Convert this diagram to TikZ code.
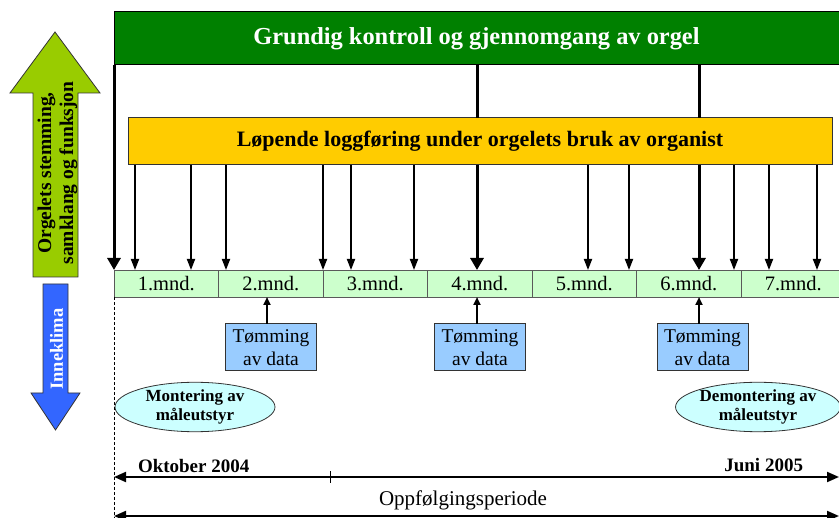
\documentclass[tikz,border=0pt]{standalone}
\usepackage{fontspec}
\setmainfont{Liberation Serif}
\usetikzlibrary{arrows.meta,shapes.geometric}
\definecolor{titlegreen}{HTML}{008000}
\definecolor{logyellow}{HTML}{FFCC00}
\definecolor{cellgreen}{HTML}{CCFFCC}
\definecolor{dataclr}{HTML}{99CCFF}
\definecolor{ellclr}{HTML}{CCFFFF}
\definecolor{upclr}{HTML}{99CC00}
\definecolor{downclr}{HTML}{3366FF}
\begin{document}
\begin{tikzpicture}[x=1pt,y=-1pt,
  every node/.style={inner sep=0pt, outer sep=0pt},
  titlebox/.style={draw=black, line width=1pt, fill=titlegreen, text=white, minimum width=725pt, minimum height=53pt, anchor=north west, font=\fontsize{24.4}{28}\selectfont\bfseries},
  logbox/.style={draw=black!80, line width=1pt, fill=logyellow, minimum width=704pt, minimum height=47pt, anchor=north west, font=\fontsize{22}{26}\selectfont\bfseries},
  cell/.style={draw=black!65, line width=0.8pt, fill=cellgreen, minimum width=104.5pt, minimum height=27pt, anchor=north west, font=\fontsize{20.5}{24}\selectfont},
  databox/.style={draw=black!80, line width=1pt, fill=dataclr, minimum width=91pt, minimum height=47pt, align=center, font=\fontsize{19.5}{23}\selectfont},
  ellnode/.style={ellipse, draw=black!80, line width=0.8pt, fill=ellclr, minimum width=160pt, minimum height=46pt, align=center, font=\fontsize{17}{19.5}\selectfont\bfseries},
  thinarr/.style={line width=1.8pt, -{Triangle[width=8pt,length=11pt]}},
  thickarr/.style={line width=3pt, -{Triangle[width=13pt,length=12pt]}},
  thickline/.style={line width=3pt},
  uparr/.style={line width=2pt, -{Triangle[width=7pt,length=8pt]}},
  datearr/.style={line width=2pt, {Triangle[width=10pt,length=12pt]}-{Triangle[width=10pt,length=12pt]}},
  datelbl/.style={font=\fontsize{19}{22}\selectfont\bfseries},
  sidearrow/.style={draw=black!80, line width=0.8pt}
]
\useasboundingbox (0,0) rectangle (839,518);

% side arrows
\filldraw[sidearrow, fill=upclr] (33,277) -- (33,93) -- (10,93) -- (55,32) -- (100,93) -- (78,93) -- (78,277) -- cycle;
\node[rotate=90, align=center, font=\fontsize{19.5}{22}\selectfont\bfseries] (uptxt) at (57.5,173) {Orgelets stemming,\\samklang og funksjon};
\filldraw[sidearrow, fill=downclr] (43,284) -- (68,284) -- (68,393) -- (80,393) -- (55.5,430) -- (31,393) -- (43,393) -- cycle;
\node[rotate=90, text=white, font=\fontsize{18.5}{21}\selectfont\bfseries] (downtxt) at (56.5,349) {Inneklima};

% title and log boxes
\node[titlebox] (title) at (114,12) {Grundig kontroll og gjennomgang av orgel};
\node[logbox] (log) at (128,118) {Løpende loggføring under orgelets bruk av organist};

% month cells
\foreach \i in {1,...,7} {
  \node[cell] (m\i) at ({114+104.5*(\i-1)},270) {\i.mnd.};
}

% connectors from the title box
\draw[thickarr] (title.south west) -- (m1.north west);
\foreach \x in {477,699} {
  \draw[thickline] (\x,0 |- title.south) -- (\x,0 |- log.north);
  \draw[thickarr] (\x,0 |- log.south) -- (\x,0 |- m1.north);
}
% connectors from the log box
\foreach \x in {135,191,226,323,351,414,588,629,734,769,817} {
  \draw[thinarr] (\x,0 |- log.south) -- (\x,0 |- m1.north);
}

% data boxes
\node[databox] (d1) at (271,347.5) {Tømming\\av data};
\node[databox] (d2) at (480,347.5) {Tømming\\av data};
\node[databox] (d3) at (702.5,347.5) {Tømming\\av data};
\draw[uparr] (267,0 |- d1.north) -- (267,0 |- m2.south);
\draw[uparr] (477,0 |- d2.north) -- (477,0 |- m4.south);
\draw[uparr] (699,0 |- d3.north) -- (699,0 |- m6.south);

% ellipses
\node[ellnode] (mont) at (195,407) {Montering av\\måleutstyr};
\node[ellnode] (demont) at (758,407) {Demontering av\\måleutstyr};

% dashed start line
\coordinate (bl) at (114,518);
\draw[dashed, line width=1pt, dash pattern=on 3pt off 2pt] (m1.south west) -- (bl);

% date line
\coordinate (okt) at (114,477);
\coordinate (jun) at (839,477);
\coordinate (tick) at (330,477);
\draw[datearr] (okt) -- (jun);
\draw[line width=1pt] ([yshift=-6pt]tick) -- ([yshift=6pt]tick);
\node[datelbl, anchor=base west] (okttxt) at (138,473) {Oktober 2004};
\node[datelbl, anchor=base east] (juntxt) at (803,472) {Juni 2005};

% period line
\coordinate (ps) at (114,516);
\coordinate (pe) at (839,516);
\draw[datearr] (ps) -- (pe);
\node[anchor=base, font=\fontsize{21}{24}\selectfont] (periode) at (463,506) {Oppfølgingsperiode};
\end{tikzpicture}
\end{document}
